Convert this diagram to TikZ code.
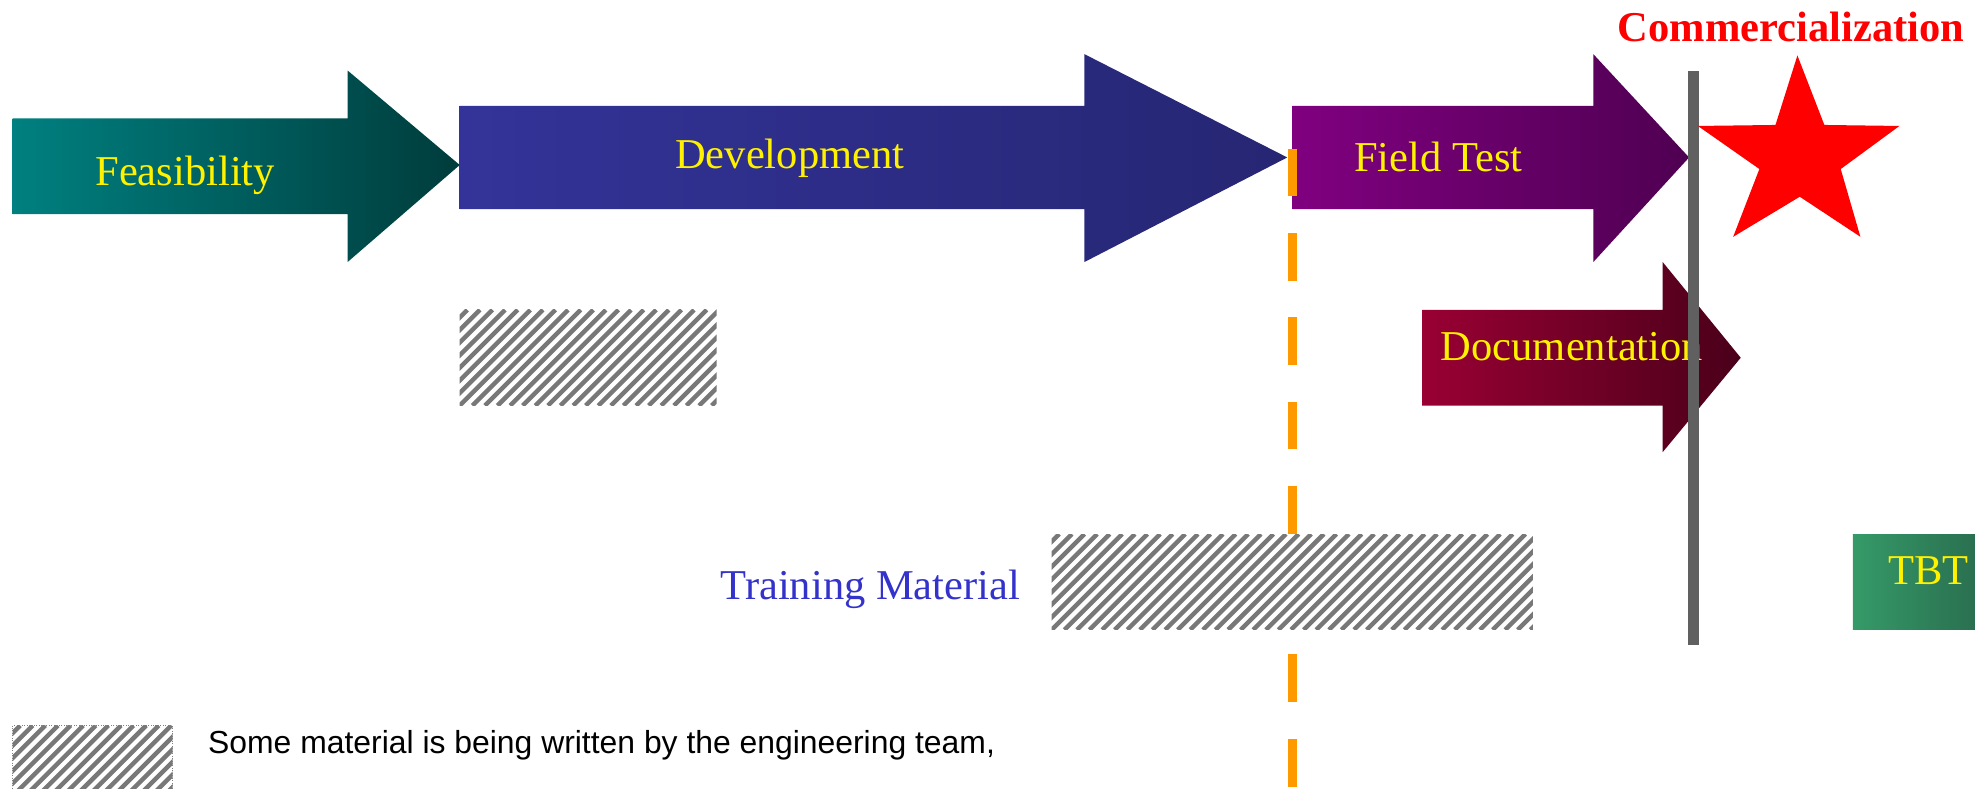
\documentclass[tikz,border=0pt]{standalone}
\usepackage{fontspec}
\setmainfont{Liberation Serif}
\setsansfont{Liberation Sans}
\definecolor{feasL}{HTML}{008080}
\definecolor{feasR}{HTML}{003C3C}
\definecolor{devL}{HTML}{333399}
\definecolor{devR}{HTML}{262673}
\definecolor{fieldL}{HTML}{800080}
\definecolor{fieldR}{HTML}{4F0052}
\definecolor{docL}{HTML}{990033}
\definecolor{docR}{HTML}{4A001A}
\definecolor{tbtL}{HTML}{359A68}
\definecolor{tbtR}{HTML}{2A7050}
\definecolor{trainblue}{HTML}{3333CC}
\definecolor{hatchgray}{HTML}{606060}
\definecolor{milestone}{HTML}{FF9900}

\begin{document}
\begin{tikzpicture}[x=0.025cm, y=-0.025cm,
  phase/.style={text=yellow, font=\fontsize{24}{28}\selectfont, anchor=base},
  hatchline/.style={hatchgray!85, line width=2.5pt}]
\useasboundingbox (0,0) rectangle (1568,626);
% phase arrows
\shade[left color=feasL, right color=feasR](10,94)--(276,94)--(276,56)--(365,131)--(276,208)--(276,170)--(10,170)--cycle;
\node[phase] (feas) at (147,147){Feasibility};
\shade[left color=devL, right color=devR](365,84)--(861,84)--(861,43)--(1022,125)--(861,208)--(861,166)--(365,166)--cycle;
\node[phase] (dev) at (627,134){Development};
\shade[left color=fieldL, right color=fieldR](1026,84)--(1265,84)--(1265,43)--(1341,125)--(1265,208)--(1265,166)--(1026,166)--cycle;
\node[phase] (field) at (1142,136){Field Test};
\shade[left color=docL, right color=docR](1129,246)--(1320,246)--(1320,208)--(1382,284)--(1320,359)--(1320,322)--(1129,322)--cycle;
\node[phase] (doc) at (1248,286.4){Documentation};
% milestone line
\draw[milestone, line width=5pt, dash pattern=on 27pt off 20.6pt](1026,118)--(1026,630);
% hatched work
\begin{scope}
\clip(365,246) rectangle (569,322);
\fill[white](365,246) rectangle (569,322);
\foreach \x in {285,295,...,575} \draw[hatchline](\x,322)--++(76,-76);
\end{scope}
\begin{scope}
\clip(835,424) rectangle (1217,500);
\fill[white](835,424) rectangle (1217,500);
\foreach \x in {755,765,...,1225} \draw[hatchline](\x,500)--++(76,-76);
\end{scope}
\node[text=trainblue, font=\fontsize{24}{28}\selectfont, anchor=base] (train) at (691,476){Training Material};
% commercialization
\fill[hatchgray](1340,56) rectangle (1349,512);
\fill[red](1427,44)--(1448.4,99.2)--(1508,100)--(1461.4,134.2)--(1477,188)--(1428.9,156.2)--(1376,188)--(1396.8,134.2)--(1348,100)--(1409.6,99.2)--cycle;
\node[text=red, font=\bfseries\fontsize{24}{28}\selectfont, anchor=base] (comm) at (1422,33){Commercialization};
\shade[left color=tbtL, right color=tbtR](1471,424) rectangle (1568,500);
\node[phase] (tbt) at (1531,464.4){TBT};
% legend
\begin{scope}
\clip(10,576) rectangle (137,632);
\foreach \x in {-50,-40,...,145} \draw[hatchline](\x,632)--++(56,-56);
\end{scope}
\draw[gray, densely dotted](10,576) rectangle (137,632);
\node[font=\sffamily\fontsize{18}{22}\selectfont, anchor=base west, inner sep=0pt] (note) at (165,598.6){Some material is being written by the engineering team,};
\end{tikzpicture}
\end{document}
